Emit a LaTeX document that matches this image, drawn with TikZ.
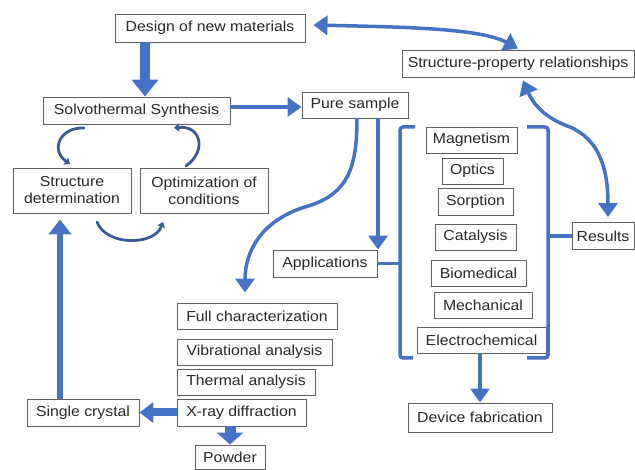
\documentclass[tikz,border=0pt]{standalone}
\usepackage{fontspec}
\setmainfont[FakeStretch=1.09]{Liberation Sans}
\usetikzlibrary{arrows.meta,calc}
\definecolor{ab}{RGB}{68,114,196}
\definecolor{ad}{RGB}{58,92,150}
\definecolor{bx}{RGB}{95,95,95}
\definecolor{tx}{RGB}{40,40,40}
\begin{document}
\begin{tikzpicture}[x=1pt,y=-1pt,
  box/.style={draw=bx, line width=0.9pt, fill=white, text=tx, inner sep=0pt, align=center,
              font=\fontsize{14.5}{17}\selectfont},
  conn/.style={draw=ab, line width=3.5pt},
  tipA/.style={-{Triangle[width=19pt,length=14pt]}},
  tipAA/.style={{Triangle[width=19pt,length=14pt]}-{Triangle[width=19pt,length=14pt]}},
  loopy/.style={draw=ad, line width=2.8pt, line cap=round, -{Triangle[width=8pt,length=5pt]}}]
\useasboundingbox (0,0) rectangle (635,470);
% boxes
\node[box, minimum width=190pt, minimum height=28pt] (design) at (210,28) {Design of new materials};
\node[box, minimum width=232pt, minimum height=27pt] (sp) at (518,63.5) {Structure-property relationships};
\node[box, minimum width=187pt, minimum height=27pt] (solvo) at (136.5,110.5) {Solvothermal Synthesis};
\node[box, minimum width=106pt, minimum height=26pt] (pure) at (355,105) {Pure sample};
\node[box, minimum width=118pt, minimum height=45pt] (structdet) at (72,190.5) {Structure\\determination};
\node[box, minimum width=128pt, minimum height=45pt] (optim) at (204,190.5) {Optimization of\\conditions};
\node[box, minimum width=91pt, minimum height=26pt] (magnet) at (471.5,140) {Magnetism};
\node[box, minimum width=61pt, minimum height=26pt] (optics) at (472.5,171) {Optics};
\node[box, minimum width=75pt, minimum height=27pt] (sorption) at (475.5,201.5) {Sorption};
\node[box, minimum width=81pt, minimum height=26pt] (catal) at (475.5,237) {Catalysis};
\node[box, minimum width=95pt, minimum height=26pt] (biomed) at (478.5,273) {Biomedical};
\node[box, minimum width=98pt, minimum height=26pt] (mech) at (483,305) {Mechanical};
\node[box, minimum width=129pt, minimum height=26pt] (electro) at (481.5,340) {Electrochemical};
\node[box, minimum width=62pt, minimum height=27pt] (results) at (603,236) {Results};
\node[box, minimum width=104pt, minimum height=27pt] (apps) at (325,263.5) {Applications};
\node[box, minimum width=160pt, minimum height=26pt] (fullchar) at (257,316) {Full characterization};
\node[box, minimum width=155pt, minimum height=26pt] (vib) at (254.5,352) {Vibrational analysis};
\node[box, minimum width=138pt, minimum height=26pt] (thermal) at (246,382) {Thermal analysis};
\node[box, minimum width=129pt, minimum height=27pt] (xray) at (241.5,412.5) {X-ray diffraction};
\node[box, minimum width=112pt, minimum height=27pt] (single) at (83,412.5) {Single crystal};
\node[box, minimum width=70pt, minimum height=24pt] (powder) at (230,457) {Powder};
\node[box, minimum width=144pt, minimum height=29pt] (device) at (480,417.5) {Device fabrication};
% brackets
\coordinate (lbt) at (415,127); \coordinate (lbb) at (413,358);
\coordinate (rbt) at (527,127); \coordinate (rbb) at (527,358);
\draw[conn, rounded corners=3pt] (lbt) -- (400,127) -- (400,358) -- (lbb);
\draw[conn, rounded corners=3pt] (rbt) -- (548,127) -- (548,358) -- (rbb);
\draw[conn] (apps.east) -- (apps.east -| 400,0);
\draw[conn] (results.west) -- (results.west -| 548,0);
% thick block arrows
\draw[ab, line width=10pt, -{Triangle[width=26pt,length=17pt]}] (design.south -| 145,0) -- (solvo.north -| 145,0);
\draw[ab, line width=8pt, -{Triangle[width=20pt,length=14pt]}] (xray.west) -- (single.east);
\draw[ab, line width=11pt, -{Triangle[width=26pt,length=12pt]}] (xray.south -| 230,0) -- (powder.north -| 230,0);
\draw[ab, line width=6pt, -{Triangle[width=22pt,length=15pt]}] (single.north -| 60,0) -- ($(structdet.south -| 60,0)+(0,6)$);
% connectors
\draw[conn, tipA] (solvo.east |- 0,107) -- (pure.west |- 0,107);
\draw[conn, tipA] (pure.south -| 378,0) -- (apps.north -| 378,0);
\coordinate (fctip) at ($(fullchar.north -| 245,0)+(0,-10)$);
\draw[conn, tipA] (pure.south -| 357,0) .. controls (357,170) and (347,195) .. (305,207)
   .. controls (263,220) and (245,250) .. (fctip);
\draw[conn, tipA] (electro.south -| 480,0) -- (device.north -| 480,0);
\draw[conn, tipAA] ($(design.east)+(8,-3)$) .. controls (400,27) and (480,28) .. ($(sp.north)+(0,-1)$);
\draw[conn, tipAA] ($(sp.south)+(5,3)$) .. controls (535,108) and (550,120) .. (570,127)
   .. controls (600,140) and (608,170) .. ($(results.north)+(5,-5)$);
% small cycle arcs
\draw[loopy] (84,128) .. controls (60,127) and (50,150) .. (70,164);
\draw[loopy] (97,222) .. controls (106,246) and (154,246) .. (163,222);
\draw[loopy] (186,166) .. controls (208,150) and (200,125) .. (174,128);
\end{tikzpicture}
\end{document}
